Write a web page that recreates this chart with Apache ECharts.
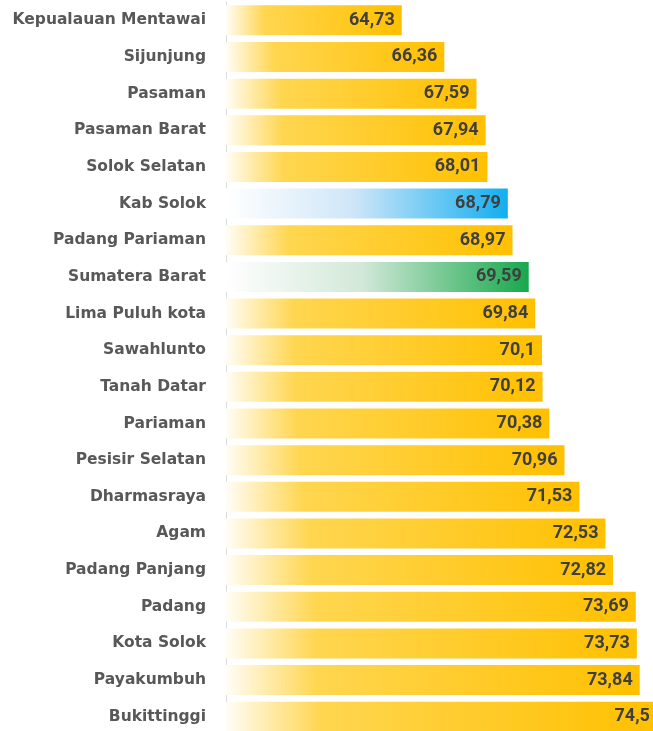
<!DOCTYPE html>
<html>
<head>
<meta charset="utf-8">
<script src="https://cdn.jsdelivr.net/npm/echarts@6/dist/echarts.min.js"></script>
<style>
  html, body { margin: 0; padding: 0; background: #fff; overflow: hidden; }
  /* the reference is cropped at the right and bottom edges, so the chart is a bit larger than the window */
  #main { width: 690px; height: 745px; }
</style>
</head>
<body>
<div id="main"></div>
<script>
// data, top to bottom
var categories = ['Kepualauan Mentawai', 'Sijunjung', 'Pasaman', 'Pasaman Barat', 'Solok Selatan',
  'Kab Solok', 'Padang Pariaman', 'Sumatera Barat', 'Lima Puluh kota', 'Sawahlunto',
  'Tanah Datar', 'Pariaman', 'Pesisir Selatan', 'Dharmasraya', 'Agam',
  'Padang Panjang', 'Padang', 'Kota Solok', 'Payakumbuh', 'Bukittinggi'];
var values = [64.73, 66.36, 67.59, 67.94, 68.01,
  68.79, 68.97, 69.59, 69.84, 70.1,
  70.12, 70.38, 70.96, 71.53, 72.53,
  72.82, 73.69, 73.73, 73.84, 74.5];
var blueCat = 'Kab Solok';
var greenCat = 'Sumatera Barat';

function grad(stops) {
  return new echarts.graphic.LinearGradient(0, 0, 1, 0, stops);
}
var yellow = grad([
  { offset: 0, color: '#fffdf6' },
  { offset: 0.22, color: '#ffd650' },
  { offset: 1, color: '#ffc000' }
]);
var blue = grad([
  { offset: 0, color: '#ffffff' },
  { offset: 0.45, color: '#cfe6f8' },
  { offset: 1, color: '#12aef0' }
]);
var green = grad([
  { offset: 0, color: '#ffffff' },
  { offset: 0.45, color: '#d2e8d8' },
  { offset: 1, color: '#17a84c' }
]);

var seriesData = values.map(function (v, i) {
  var c = yellow;
  if (categories[i] === blueCat) c = blue;
  if (categories[i] === greenCat) c = green;
  return { value: v, itemStyle: { color: c } };
});

var myChart = echarts.init(document.getElementById('main'));
myChart.setOption({
  animation: false,
  grid: { left: 226, top: 2, width: 444, height: 733, containLabel: false },
  xAxis: {
    type: 'value',
    min: 58,
    max: 75,
    show: false
  },
  yAxis: {
    type: 'category',
    inverse: true,
    data: categories,
    axisTick: { show: false },
    axisLine: { show: true, lineStyle: { color: '#dcdcdc', width: 1 } },
    axisLabel: {
      margin: 20,
      color: '#585858',
      fontSize: 15.5,
      fontWeight: 'bold',
      fontFamily: 'DejaVu Sans'
    }
  },
  series: [{
    type: 'bar',
    data: seriesData,
    barWidth: 30,
    label: {
      show: true,
      position: 'insideRight',
      distance: 7,
      color: '#3f3f3f',
      fontSize: 18,
      fontWeight: 'bold',
      fontFamily: 'Roboto',
      formatter: function (p) { return String(p.value).replace('.', ','); }
    }
  }]
});
</script>
</body>
</html>
